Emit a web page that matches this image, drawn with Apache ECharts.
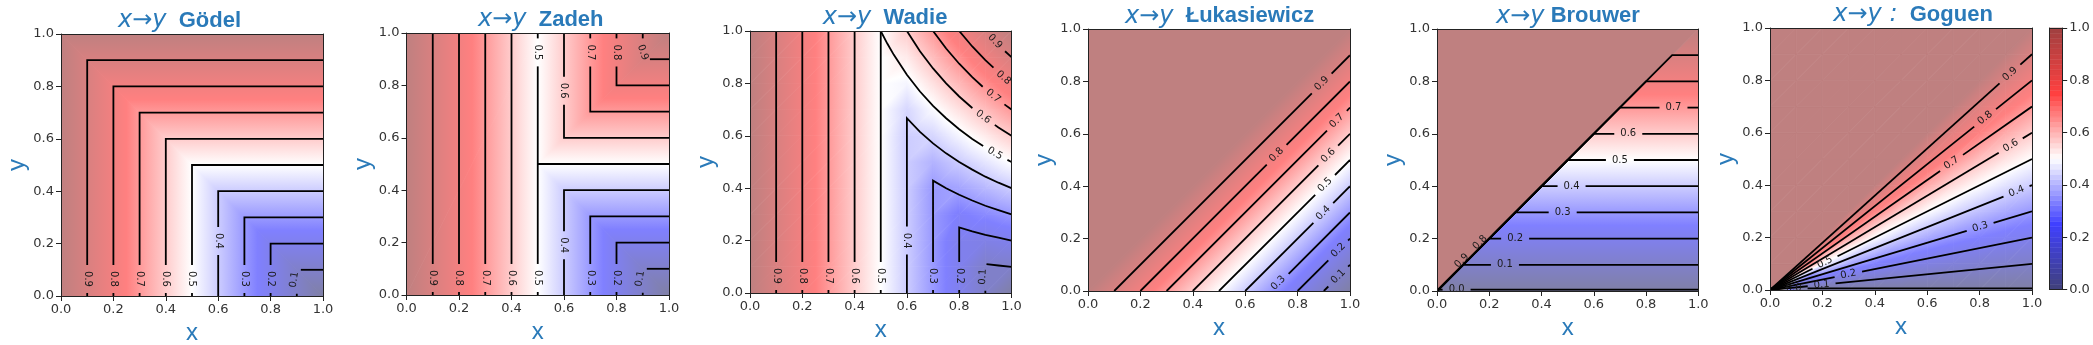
<!DOCTYPE html>
<html>
<head>
<meta charset="utf-8">
<script src="https://cdn.jsdelivr.net/npm/echarts@6/dist/echarts.min.js"></script>
<style>
  html, body { margin: 0; padding: 0; background: #fff; }
  #chart { width: 2093px; height: 345px; }
</style>
</head>
<body>
<div id="chart"></div>
<script>
// ---- Panel text ----
const implicationNames = ['Gödel', 'Zadeh', 'Wadie', 'Łukasiewicz', 'Brouwer', 'Goguen'];
const arrowTexts = ['x→y', 'x→y', 'x→y', 'x→y', 'x→y', 'x→y :'];
const titleSpacers = ['  ', '  ', '  ', '  ', ' ', '  '];
const tickStep = 0.2;
const colorbarLevels = [0, 0.02, 0.04, 0.06, 0.08, 0.1, 0.12, 0.14, 0.16, 0.18, 0.2, 0.22, 0.24, 0.26, 0.28,
  0.3, 0.32, 0.34, 0.36, 0.38, 0.4, 0.42, 0.44, 0.46, 0.48, 0.5, 0.52, 0.54, 0.56, 0.58, 0.6, 0.62, 0.64,
  0.66, 0.68, 0.7, 0.72, 0.74, 0.76, 0.78, 0.8, 0.82, 0.84, 0.86, 0.88, 0.9, 0.92, 0.94, 0.96, 0.98, 1];

// ---- Truth-value surfaces: triangles of [x, y, value] corners ----
const godelFill = [
  [[0, 0, 1], [1, 0, 0], [0, 1, 1]],
  [[1, 0, 0], [1, 1, 1], [0, 1, 1]]
];
const zadehFill = [
  [[0, 0, 1], [0.5, 0, 0.5], [0.5, 1, 0.5]],
  [[0, 0, 1], [0.5, 1, 0.5], [0, 1, 1]],
  [[0.5, 0, 0.5], [1, 0, 0], [0.5, 0.5, 0.5]],
  [[0.5, 0.5, 0.5], [1, 0, 0], [1, 1, 1]],
  [[0.5, 0.5, 0.5], [1, 1, 1], [0.5, 1, 0.5]]
];
const lukasiewiczFill = [
  [[0, 0, 1], [1, 0, 0], [1, 1, 1]],
  [[0, 0, 1], [1, 1, 1], [0, 1, 1]]
];
const brouwerFill = [
  [[0, 0, 0], [1, 0, 0], [1, 1, 1]],
  [[0, 0, 1], [1, 1, 1], [0, 1, 1]]
];

// ---- Truth-value surfaces on a node grid (rows: y = 0 .. 1, columns: x = 0 .. 1) ----
const gridNodes = [0, 0.1, 0.2, 0.3, 0.4, 0.5, 0.6, 0.7, 0.8, 0.9, 1];
const wadieGrid = [
  [1, 0.9, 0.8, 0.7, 0.6, 0.5, 0.4, 0.3, 0.2, 0.1, 0],
  [1, 0.9, 0.8, 0.7, 0.6, 0.5, 0.4, 0.3, 0.2, 0.1, 0.1],
  [1, 0.9, 0.8, 0.7, 0.6, 0.5, 0.4, 0.3, 0.2, 0.18, 0.2],
  [1, 0.9, 0.8, 0.7, 0.6, 0.5, 0.4, 0.3, 0.24, 0.27, 0.3],
  [1, 0.9, 0.8, 0.7, 0.6, 0.5, 0.4, 0.3, 0.32, 0.36, 0.4],
  [1, 0.9, 0.8, 0.7, 0.6, 0.5, 0.4, 0.35, 0.4, 0.45, 0.5],
  [1, 0.9, 0.8, 0.7, 0.6, 0.5, 0.4, 0.42, 0.48, 0.54, 0.6],
  [1, 0.9, 0.8, 0.7, 0.6, 0.5, 0.42, 0.49, 0.56, 0.63, 0.7],
  [1, 0.9, 0.8, 0.7, 0.6, 0.5, 0.48, 0.56, 0.64, 0.72, 0.8],
  [1, 0.9, 0.8, 0.7, 0.6, 0.5, 0.54, 0.63, 0.72, 0.81, 0.9],
  [1, 0.9, 0.8, 0.7, 0.6, 0.5, 0.6, 0.7, 0.8, 0.9, 1]
];
const goguenGrid = [
  [1, 0, 0, 0, 0, 0, 0, 0, 0, 0, 0],
  [1, 1, 0.5, 0.333, 0.25, 0.2, 0.167, 0.143, 0.125, 0.111, 0.1],
  [1, 1, 1, 0.667, 0.5, 0.4, 0.333, 0.286, 0.25, 0.222, 0.2],
  [1, 1, 1, 1, 0.75, 0.6, 0.5, 0.429, 0.375, 0.333, 0.3],
  [1, 1, 1, 1, 1, 0.8, 0.667, 0.571, 0.5, 0.444, 0.4],
  [1, 1, 1, 1, 1, 1, 0.833, 0.714, 0.625, 0.556, 0.5],
  [1, 1, 1, 1, 1, 1, 1, 0.857, 0.75, 0.667, 0.6],
  [1, 1, 1, 1, 1, 1, 1, 1, 0.875, 0.778, 0.7],
  [1, 1, 1, 1, 1, 1, 1, 1, 1, 0.889, 0.8],
  [1, 1, 1, 1, 1, 1, 1, 1, 1, 1, 0.9],
  [1, 1, 1, 1, 1, 1, 1, 1, 1, 1, 1]
];

// ---- Contour lines: [level, path of [x, y]] ----
const godelLines = [
  [0.9, [[1, 0.9], [0.1, 0.9], [0.1, 0]]],
  [0.8, [[1, 0.8], [0.2, 0.8], [0.2, 0]]],
  [0.7, [[1, 0.7], [0.3, 0.7], [0.3, 0]]],
  [0.6, [[1, 0.6], [0.4, 0.6], [0.4, 0]]],
  [0.5, [[1, 0.5], [0.5, 0.5], [0.5, 0]]],
  [0.4, [[1, 0.4], [0.6, 0.4], [0.6, 0]]],
  [0.3, [[1, 0.3], [0.7, 0.3], [0.7, 0]]],
  [0.2, [[1, 0.2], [0.8, 0.2], [0.8, 0]]],
  [0.1, [[1, 0.1], [0.9, 0.1], [0.9, 0]]]
];
const zadehLines = [
  [0.9, [[0.1, 1], [0.1, 0]]],
  [0.8, [[0.2, 1], [0.2, 0]]],
  [0.7, [[0.3, 1], [0.3, 0]]],
  [0.6, [[0.4, 1], [0.4, 0]]],
  [0.5, [[0.5, 1], [0.5, 0]]],
  [0.5, [[0.5, 0.5], [1, 0.5]]],
  [0.6, [[0.6, 1], [0.6, 0.6], [1, 0.6]]],
  [0.7, [[0.7, 1], [0.7, 0.7], [1, 0.7]]],
  [0.8, [[0.8, 1], [0.8, 0.8], [1, 0.8]]],
  [0.9, [[0.9, 1], [0.9, 0.9], [1, 0.9]]],
  [0.4, [[1, 0.4], [0.6, 0.4], [0.6, 0]]],
  [0.3, [[1, 0.3], [0.7, 0.3], [0.7, 0]]],
  [0.2, [[1, 0.2], [0.8, 0.2], [0.8, 0]]],
  [0.1, [[1, 0.1], [0.9, 0.1], [0.9, 0]]]
];
const wadieLines = [
  [0.9, [[0.1, 1], [0.1, 0]]],
  [0.8, [[0.2, 1], [0.2, 0]]],
  [0.7, [[0.3, 1], [0.3, 0]]],
  [0.6, [[0.4, 1], [0.4, 0]]],
  [0.5, [[0.5, 1], [0.5, 0]]],
  [0.9, [[0.9, 1], [0.925, 0.973], [0.95, 0.947], [0.975, 0.923], [1, 0.9]]],
  [0.8, [[0.8, 1], [0.85, 0.941], [0.9, 0.889], [0.95, 0.842], [1, 0.8]]],
  [0.7, [[0.7, 1], [0.75, 0.933], [0.8, 0.875], [0.85, 0.824], [0.9, 0.778], [0.95, 0.737], [1, 0.7]]],
  [0.6, [[0.6, 1], [0.65, 0.923], [0.7, 0.857], [0.75, 0.8], [0.8, 0.75], [0.85, 0.706], [0.9, 0.667], [0.95, 0.632], [1, 0.6]]],
  [0.5, [[0.5, 1], [0.525, 0.952], [0.55, 0.909], [0.6, 0.833], [0.65, 0.769], [0.7, 0.714], [0.75, 0.667], [0.8, 0.625], [0.85, 0.588], [0.9, 0.556], [0.95, 0.526], [1, 0.5]]],
  [0.4, [[1, 0.4], [0.95, 0.421], [0.9, 0.444], [0.85, 0.471], [0.8, 0.5], [0.75, 0.533], [0.7, 0.571], [0.65, 0.615], [0.6, 0.667], [0.6, 0]]],
  [0.3, [[1, 0.3], [0.95, 0.316], [0.9, 0.333], [0.85, 0.353], [0.8, 0.375], [0.75, 0.4], [0.7, 0.429], [0.7, 0]]],
  [0.2, [[1, 0.2], [0.95, 0.211], [0.9, 0.222], [0.85, 0.235], [0.8, 0.25], [0.8, 0]]],
  [0.1, [[1, 0.1], [0.95, 0.105], [0.9, 0.111], [0.9, 0]]]
];
const lukasiewiczLines = [
  [0.9, [[0.1, 0], [1, 0.9]]],
  [0.8, [[0.2, 0], [1, 0.8]]],
  [0.7, [[0.3, 0], [1, 0.7]]],
  [0.6, [[0.4, 0], [1, 0.6]]],
  [0.5, [[0.5, 0], [1, 0.5]]],
  [0.4, [[0.6, 0], [1, 0.4]]],
  [0.3, [[0.7, 0], [1, 0.3]]],
  [0.2, [[0.8, 0], [1, 0.2]]],
  [0.1, [[0.9, 0], [1, 0.1]]]
];
const brouwerLines = [
  [0.9, [[1, 0.9], [0.9, 0.9], [0, 0]]],
  [0.8, [[1, 0.8], [0.8, 0.8], [0, 0]]],
  [0.7, [[1, 0.7], [0.7, 0.7], [0, 0]]],
  [0.6, [[1, 0.6], [0.6, 0.6], [0, 0]]],
  [0.5, [[1, 0.5], [0.5, 0.5], [0, 0]]],
  [0.4, [[1, 0.4], [0.4, 0.4], [0, 0]]],
  [0.3, [[1, 0.3], [0.3, 0.3], [0, 0]]],
  [0.2, [[1, 0.2], [0.2, 0.2], [0, 0]]],
  [0.1, [[1, 0.1], [0.1, 0.1], [0, 0]]],
  [0.0, [[1, 0.005], [0, 0.005]]]
];
const goguenLines = [
  [0.9, [[1, 0.9], [0, 0]]],
  [0.8, [[1, 0.8], [0, 0]]],
  [0.7, [[1, 0.7], [0, 0]]],
  [0.6, [[1, 0.6], [0, 0]]],
  [0.5, [[1, 0.5], [0, 0]]],
  [0.4, [[1, 0.4], [0, 0]]],
  [0.3, [[1, 0.3], [0, 0]]],
  [0.2, [[1, 0.2], [0, 0]]],
  [0.1, [[1, 0.1], [0, 0]]],
  [0.0, [[1, 0.006], [0, 0.006]]]
];

// ---- Inline contour labels: [level, x, y] ----
const godelLabels = [[0.9, 0.1, 0.065], [0.8, 0.2, 0.065], [0.7, 0.3, 0.065], [0.6, 0.4, 0.065],
  [0.5, 0.5, 0.065], [0.4, 0.6, 0.21], [0.3, 0.7, 0.065], [0.2, 0.8, 0.065], [0.1, 0.89, 0.062]];
const zadehLabels = [[0.9, 0.1, 0.065], [0.8, 0.2, 0.065], [0.7, 0.3, 0.065], [0.6, 0.4, 0.065],
  [0.5, 0.5, 0.065], [0.5, 0.5, 0.926], [0.9, 0.9, 0.926], [0.8, 0.8, 0.926], [0.7, 0.7, 0.926],
  [0.6, 0.6, 0.78], [0.4, 0.6, 0.19], [0.3, 0.7, 0.065], [0.2, 0.8, 0.065], [0.1, 0.89, 0.062]];
const wadieLabels = [[0.9, 0.1, 0.065], [0.8, 0.2, 0.065], [0.7, 0.3, 0.065], [0.6, 0.4, 0.065],
  [0.5, 0.5, 0.065], [0.9, 0.937, 0.96], [0.8, 0.969, 0.822], [0.7, 0.93, 0.752], [0.6, 0.892, 0.672],
  [0.5, 0.937, 0.533], [0.4, 0.6, 0.2], [0.3, 0.7, 0.065], [0.2, 0.8, 0.065], [0.1, 0.89, 0.062]];
const lukasiewiczLabels = [[0.9, 0.892, 0.792], [0.8, 0.72, 0.52], [0.7, 0.95, 0.65], [0.6, 0.917, 0.517],
  [0.5, 0.905, 0.405], [0.4, 0.898, 0.298], [0.3, 0.726, 0.03], [0.2, 0.955, 0.155], [0.1, 0.955, 0.055]];
const brouwerLabels = [[0.7, 0.905, 0.7], [0.6, 0.732, 0.6], [0.5, 0.7, 0.5], [0.4, 0.515, 0.4],
  [0.3, 0.481, 0.3], [0.2, 0.299, 0.2], [0.1, 0.26, 0.1], [0.0, 0.075, 0.006],
  [0.8, 0.165, 0.185], [0.9, 0.095, 0.115]];
const goguenLabels = [[0.9, 0.916, 0.824], [0.8, 0.821, 0.657], [0.7, 0.693, 0.485], [0.6, 0.919, 0.551],
  [0.5, 0.21, 0.105], [0.4, 0.941, 0.376], [0.3, 0.802, 0.241], [0.2, 0.299, 0.06], [0.1, 0.197, 0.02],
  [0.0, 0.09, 0.006]];

// ---- Layout ----
const BLUE = '#2a7ab9';
const TEXT = '#333333';
const FRAME = '#222222';
const plotBoxes = [
  [61, 34, 262, 262], [406.5, 33, 262.5, 262], [750, 31, 261.5, 262],
  [1088, 29, 262, 262], [1437, 29, 261.3, 262], [1770, 28, 262, 262]
];
const titleAnchors = [[118, 27.7], [478, 26.7], [822.7, 25], [1125, 23.3], [1496, 23.3], [1833.3, 21.7]];
const colorbarBox = [2049.5, 28, 12.7, 261.5];
const GAP = 14; // half-length of the break cut around inline labels, px

const panels = [
  { fill: godelFill, lines: godelLines, labels: godelLabels },
  { fill: zadehFill, lines: zadehLines, labels: zadehLabels },
  { grid: wadieGrid, lines: wadieLines, labels: wadieLabels },
  { fill: lukasiewiczFill, lines: lukasiewiczLines, labels: lukasiewiczLabels },
  { fill: brouwerFill, lines: brouwerLines, labels: brouwerLabels },
  { grid: goguenGrid, lines: goguenLines, labels: goguenLabels }
];

// ---- 'seismic' colour map, composited over white with the given opacity ----
const seismicStops = [[0, [0, 0, 0.3]], [0.25, [0, 0, 1]], [0.5, [1, 1, 1]], [0.75, [1, 0, 0]], [1, [0.5, 0, 0]]];
function cmap(v, alpha) {
  v = Math.max(0, Math.min(1, v));
  let i = 0;
  while (i < seismicStops.length - 2 && v > seismicStops[i + 1][0]) i++;
  const [v0, c0] = seismicStops[i];
  const [v1, c1] = seismicStops[i + 1];
  const t = (v - v0) / (v1 - v0);
  const rgb = c0.map((c, k) => c + (c1[k] - c) * t);
  return 'rgb(' + rgb.map(c => Math.round(255 * (c * alpha + 1 - alpha))).join(',') + ')';
}

// Grid surfaces are split into triangles along the cell diagonals
function gridTriangles(grid) {
  const tris = [];
  for (let j = 0; j < grid.length - 1; j++) {
    for (let i = 0; i < grid[j].length - 1; i++) {
      const a = [gridNodes[i], gridNodes[j], grid[j][i]];
      const b = [gridNodes[i + 1], gridNodes[j], grid[j][i + 1]];
      const c = [gridNodes[i + 1], gridNodes[j + 1], grid[j + 1][i + 1]];
      const d = [gridNodes[i], gridNodes[j + 1], grid[j + 1][i]];
      tris.push([a, b, c], [a, c, d]);
    }
  }
  return tris;
}

// A triangle whose value varies linearly is painted with a linear gradient
function triangleElement(api, tri) {
  const p = tri.map(t => api.coord([t[0], t[1]]));
  const v = tri.map(t => t[2]);
  const [x1, y1] = p[0], [x2, y2] = p[1], [x3, y3] = p[2];
  const det = (x2 - x1) * (y3 - y1) - (y2 - y1) * (x3 - x1);
  const A = ((v[1] - v[0]) * (y3 - y1) - (y2 - y1) * (v[2] - v[0])) / det;
  const B = ((x2 - x1) * (v[2] - v[0]) - (v[1] - v[0]) * (x3 - x1)) / det;
  const vmin = Math.min(...v), vmax = Math.max(...v);
  let fill;
  if (vmax - vmin < 1e-9) {
    fill = cmap(vmin, 0.5);
  } else {
    const g2 = A * A + B * B;
    const t0 = (vmin - v[0]) / g2, t1 = (vmax - v[0]) / g2;
    const breaks = [vmin].concat([0.25, 0.5, 0.75].filter(b => b > vmin && b < vmax), [vmax]);
    fill = {
      type: 'linear', global: true,
      x: x1 + A * t0, y: y1 + B * t0, x2: x1 + A * t1, y2: y1 + B * t1,
      colorStops: breaks.map(b => ({ offset: (b - vmin) / (vmax - vmin), color: cmap(b, 0.5) }))
    };
  }
  return { type: 'polygon', shape: { points: p }, style: { fill: fill, stroke: fill, lineWidth: 0.8 } };
}

// ---- Contour path helpers (pixel space) ----
function cumulative(pts) {
  const cum = [0];
  for (let i = 1; i < pts.length; i++) {
    cum.push(cum[i - 1] + Math.hypot(pts[i][0] - pts[i - 1][0], pts[i][1] - pts[i - 1][1]));
  }
  return cum;
}
function pointAt(pts, cum, s) {
  for (let i = 0; i < pts.length - 1; i++) {
    if (s <= cum[i + 1] || i === pts.length - 2) {
      const len = cum[i + 1] - cum[i];
      const t = len > 0 ? Math.max(0, Math.min(1, (s - cum[i]) / len)) : 0;
      return [pts[i][0] + (pts[i + 1][0] - pts[i][0]) * t, pts[i][1] + (pts[i + 1][1] - pts[i][1]) * t];
    }
  }
  return pts[pts.length - 1];
}
function projectOnto(pts, cum, q) {
  let best = Infinity, bestS = 0;
  for (let i = 0; i < pts.length - 1; i++) {
    const dx = pts[i + 1][0] - pts[i][0], dy = pts[i + 1][1] - pts[i][1];
    const l2 = dx * dx + dy * dy;
    let t = l2 > 0 ? ((q[0] - pts[i][0]) * dx + (q[1] - pts[i][1]) * dy) / l2 : 0;
    t = Math.max(0, Math.min(1, t));
    const d = Math.hypot(pts[i][0] + dx * t - q[0], pts[i][1] + dy * t - q[1]);
    if (d < best) { best = d; bestS = cum[i] + t * Math.sqrt(l2); }
  }
  return bestS;
}
function keptPieces(pts, cum, cuts) {
  const total = cum[cum.length - 1];
  cuts.sort((a, b) => a[0] - b[0]);
  const keep = [];
  let start = 0;
  cuts.forEach(([a, b]) => { if (a > start) keep.push([start, a]); start = Math.max(start, b); });
  if (start < total) keep.push([start, total]);
  return keep.filter(([a, b]) => b - a > 0.5).map(([a, b]) => {
    const piece = [pointAt(pts, cum, a)];
    for (let i = 0; i < pts.length; i++) if (cum[i] > a && cum[i] < b) piece.push(pts[i]);
    piece.push(pointAt(pts, cum, b));
    return piece;
  });
}
function pathDistance(path, x, y) {
  let best = Infinity;
  for (let i = 0; i < path.length - 1; i++) {
    const [ax, ay] = path[i], [bx, by] = path[i + 1];
    const dx = bx - ax, dy = by - ay, l2 = dx * dx + dy * dy;
    const t = l2 > 0 ? Math.max(0, Math.min(1, ((x - ax) * dx + (y - ay) * dy) / l2)) : 0;
    best = Math.min(best, Math.hypot(ax + dx * t - x, ay + dy * t - y));
  }
  return best;
}

// Each label belongs to the nearest contour path of its own level
panels.forEach(panel => {
  panel.labelsByPath = panel.lines.map(() => []);
  panel.labels.forEach(lab => {
    let bestIdx = -1, bestD = Infinity;
    panel.lines.forEach(([level, path], idx) => {
      if (Math.abs(level - lab[0]) > 1e-9) return;
      const d = pathDistance(path, lab[1], lab[2]);
      if (d < bestD) { bestD = d; bestIdx = idx; }
    });
    if (bestIdx >= 0) panel.labelsByPath[bestIdx].push(lab);
  });
});

// ---- Option assembly ----
const tickFont = { fontFamily: 'DejaVu Sans', fontSize: 13, color: TEXT };
const grids = [], xAxes = [], yAxes = [], series = [], titles = [];

function frameAxis(extra) {
  return Object.assign({
    type: 'value', min: 0, max: 1, interval: tickStep, z: 10,
    axisLine: { show: true, onZero: false, lineStyle: { color: FRAME, width: 1 } },
    axisTick: { show: false }, axisLabel: { show: false }, splitLine: { show: false }
  }, extra);
}
function labelledAxis(extra) {
  return frameAxis(Object.assign({
    axisTick: { show: true, inside: false, length: 5, lineStyle: { color: FRAME, width: 1 } },
    axisLabel: Object.assign({ show: true, margin: 7, formatter: v => v.toFixed(1) }, tickFont)
  }, extra));
}

panels.forEach((panel, k) => {
  const [left, top, width, height] = plotBoxes[k];
  grids.push({ left, top, width, height, containLabel: false, outerBoundsMode: 'none' });
  const xi = xAxes.length, yi = yAxes.length;
  xAxes.push(labelledAxis({
    gridIndex: k, position: 'bottom', name: 'x', nameLocation: 'middle', nameGap: 22,
    nameTextStyle: { fontFamily: 'Liberation Sans', fontSize: 24, color: BLUE }
  }));
  xAxes.push(frameAxis({ gridIndex: k, position: 'top' }));
  yAxes.push(labelledAxis({
    gridIndex: k, position: 'left', name: 'y', nameLocation: 'middle', nameGap: 31,
    nameTextStyle: { fontFamily: 'Liberation Sans', fontSize: 24, color: BLUE }
  }));
  yAxes.push(frameAxis({ gridIndex: k, position: 'right' }));

  const tris = panel.fill || gridTriangles(panel.grid);
  series.push({
    type: 'custom', xAxisIndex: xi, yAxisIndex: yi, z: 1, clip: true, silent: true,
    data: tris.map(t => [t[0][0], t[0][1], t[0][2], t[1][0], t[1][1], t[1][2], t[2][0], t[2][1], t[2][2]]),
    renderItem: (params, api) => triangleElement(api, [
      [api.value(0), api.value(1), api.value(2)],
      [api.value(3), api.value(4), api.value(5)],
      [api.value(6), api.value(7), api.value(8)]
    ])
  });

  series.push({
    type: 'custom', xAxisIndex: xi, yAxisIndex: yi, z: 3, clip: true, silent: true,
    data: panel.lines.map(([level, path], idx) => [path[0][0], path[0][1], idx, level]),
    renderItem: (params, api) => {
      const idx = api.value(2);
      const path = panel.lines[idx][1];
      const pts = path.map(p => api.coord(p));
      const cum = cumulative(pts);
      const total = cum[cum.length - 1];
      const cuts = [], texts = [];
      panel.labelsByPath[idx].forEach(lab => {
        const q = api.coord([lab[1], lab[2]]);
        const s = projectOnto(pts, cum, q);
        const a = Math.max(0, s - GAP), b = Math.min(total, s + GAP);
        cuts.push([a, b]);
        const pa = pointAt(pts, cum, a), pb = pointAt(pts, cum, b);
        let ang = Math.atan2(-(pb[1] - pa[1]), pb[0] - pa[0]) * 180 / Math.PI;
        if (ang > 90) ang -= 180;
        if (ang < -90) ang += 180;
        texts.push({
          type: 'text', x: q[0], y: q[1], rotation: ang * Math.PI / 180,
          style: { text: lab[0].toFixed(1), x: 0, y: 0, fill: '#1a1a1a',
            font: '10px "DejaVu Sans"', align: 'center', verticalAlign: 'middle' }
        });
      });
      const pieces = keptPieces(pts, cum, cuts);
      return {
        type: 'group',
        children: pieces.map(pp => ({
          type: 'polyline', shape: { points: pp },
          style: { stroke: '#000', lineWidth: 1.8, fill: 'none' }
        })).concat(texts)
      };
    }
  });

  const [tx, baseline] = titleAnchors[k];
  titles.push({
    text: '{m|' + arrowTexts[k] + '}' + '{s|' + titleSpacers[k] + '}' + '{b|' + implicationNames[k] + '}',
    left: tx, top: baseline - 21, padding: 0,
    textStyle: {
      fontWeight: 'normal',
      rich: {
        m: { fontFamily: 'DejaVu Sans', fontStyle: 'italic', fontWeight: 'normal', fontSize: 24, color: BLUE, lineHeight: 28 },
        s: { fontFamily: 'Liberation Sans', fontWeight: 'normal', fontSize: 22, lineHeight: 28 },
        b: { fontFamily: 'Liberation Sans', fontWeight: 'bold', fontSize: 22, color: BLUE, lineHeight: 28 }
      }
    }
  });
});

// Colour bar
{
  const [left, top, width, height] = colorbarBox;
  const k = grids.length;
  grids.push({ left, top, width, height, containLabel: false, outerBoundsMode: 'none' });
  const xi = xAxes.length, yi = yAxes.length;
  xAxes.push(frameAxis({ gridIndex: k, position: 'bottom' }));
  xAxes.push(frameAxis({ gridIndex: k, position: 'top' }));
  yAxes.push(labelledAxis({ gridIndex: k, position: 'right' }));
  yAxes.push(frameAxis({ gridIndex: k, position: 'left' }));
  series.push({
    type: 'custom', xAxisIndex: xi, yAxisIndex: yi, z: 1, silent: true,
    data: colorbarLevels.slice(0, -1).map((lo, i) => [lo, colorbarLevels[i + 1]]),
    renderItem: (params, api) => {
      const lo = api.value(0), hi = api.value(1);
      const p0 = api.coord([0, lo]), p1 = api.coord([1, hi]);
      const color = cmap((lo + hi) / 2, 0.75);
      return {
        type: 'rect',
        shape: { x: p0[0], y: p1[1], width: p1[0] - p0[0], height: p0[1] - p1[1] },
        style: { fill: color, stroke: color, lineWidth: 0.5 }
      };
    }
  });
}

const chart = echarts.init(document.getElementById('chart'), null, { renderer: 'canvas' });
chart.setOption({
  animation: false,
  backgroundColor: '#ffffff',
  title: titles,
  grid: grids,
  xAxis: xAxes,
  yAxis: yAxes,
  series: series
});
</script>
</body>
</html>
